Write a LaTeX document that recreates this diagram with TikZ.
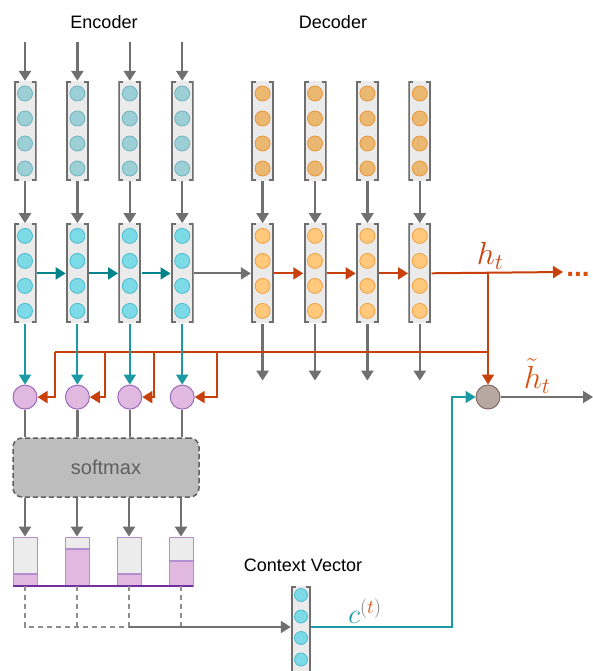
\RequirePackage{fix-cm}
\documentclass[tikz,border=0pt]{standalone}
\usepackage{fontspec}
\setmainfont{Liberation Sans}
\usetikzlibrary{arrows.meta,positioning}

\definecolor{boxgrey}{HTML}{EBEBEB}
\definecolor{bracketgrey}{HTML}{6E6E6E}
\definecolor{linegrey}{HTML}{707070}
\definecolor{encfill}{HTML}{9CCFD6}
\definecolor{encdraw}{HTML}{6FB4BE}
\definecolor{enhfill}{HTML}{7DDBE8}
\definecolor{enhdraw}{HTML}{4BBCCC}
\definecolor{decfill}{HTML}{EBB872}
\definecolor{decdraw}{HTML}{E8953A}
\definecolor{dehfill}{HTML}{FFC87A}
\definecolor{dehdraw}{HTML}{F0A040}
\definecolor{tealdown}{HTML}{1B9AA5}
\definecolor{tealdark}{HTML}{00838A}
\definecolor{attnred}{HTML}{C8400C}
\definecolor{htorange}{HTML}{D8500F}
\definecolor{scorefill}{HTML}{E0B8E0}
\definecolor{scoredraw}{HTML}{9A6AB8}
\definecolor{mixfill}{HTML}{B8A8A2}
\definecolor{mixdraw}{HTML}{806A66}
\definecolor{smfill}{HTML}{BDBDBD}
\definecolor{smdraw}{HTML}{606060}
\definecolor{bargrey}{HTML}{ECECEC}
\definecolor{barpurple}{HTML}{E0B8E0}
\definecolor{baredge}{HTML}{B38FD0}
\definecolor{barline}{HTML}{7030A0}

% dots inside a vector: fill, draw, radius, first offset, spacing
\newcommand{\vecdots}[5]{%
  \filldraw[fill=#1,draw=#2,line width=0.8pt] ([yshift=-#4]path picture bounding box.north) circle (#3);
  \filldraw[fill=#1,draw=#2,line width=0.8pt] ([yshift={-(#4+#5)}]path picture bounding box.north) circle (#3);
  \filldraw[fill=#1,draw=#2,line width=0.8pt] ([yshift={-(#4+2*#5)}]path picture bounding box.north) circle (#3);
  \filldraw[fill=#1,draw=#2,line width=0.8pt] ([yshift={-(#4+3*#5)}]path picture bounding box.north) circle (#3);
}
\newcommand{\vecbracket}{%
  \draw[bracketgrey,line width=2pt] ([xshift=5pt,yshift=-1pt]path picture bounding box.north west) -- ([xshift=1pt,yshift=-1pt]path picture bounding box.north west) -- ([xshift=1pt,yshift=1pt]path picture bounding box.south west) -- ([xshift=5pt,yshift=1pt]path picture bounding box.south west);
  \draw[bracketgrey,line width=2pt] ([xshift=-5pt,yshift=-1pt]path picture bounding box.north east) -- ([xshift=-1pt,yshift=-1pt]path picture bounding box.north east) -- ([xshift=-1pt,yshift=1pt]path picture bounding box.south east) -- ([xshift=-5pt,yshift=1pt]path picture bounding box.south east);
}

\tikzstyle{arrow} = [->, >={Triangle[length=10pt,width=12pt]}, line width=2.5pt, draw=linegrey]
\tikzstyle{tealarrow} = [arrow, line width=2pt, draw=tealdown]
\tikzstyle{darkarrow} = [arrow, line width=2pt, draw=tealdark]
\tikzstyle{redarrow} = [arrow, line width=2pt, draw=attnred]
\tikzstyle{redline} = [line width=2pt, draw=attnred]
\tikzstyle{greyline} = [line width=2.5pt, draw=linegrey]
\tikzstyle{dashline} = [line width=1.5pt, draw=linegrey!80, dash pattern=on 5pt off 4pt]
\tikzstyle{vecbox} = [rectangle, minimum width=23pt, minimum height=100pt, inner sep=0pt, fill=boxgrey]
\tikzstyle{xvec} = [vecbox, path picture={\vecdots{encfill}{encdraw}{7.5pt}{12.5pt}{25pt}\vecbracket}]
\tikzstyle{evec} = [vecbox, path picture={\vecdots{enhfill}{enhdraw}{7.5pt}{12.5pt}{25pt}\vecbracket}]
\tikzstyle{yvec} = [vecbox, path picture={\vecdots{decfill}{decdraw}{7.5pt}{12.5pt}{25pt}\vecbracket}]
\tikzstyle{dvec} = [vecbox, path picture={\vecdots{dehfill}{dehdraw}{7.5pt}{12.5pt}{25pt}\vecbracket}]
\tikzstyle{cvec} = [vecbox, minimum width=20pt, minimum height=96pt, path picture={\vecdots{enhfill}{enhdraw}{6.5pt}{9.5pt}{21.5pt}\vecbracket}]
\tikzstyle{score} = [circle, minimum size=24pt, inner sep=0pt, fill=scorefill, draw=scoredraw, line width=1pt]
\tikzstyle{mix} = [circle, minimum size=24pt, inner sep=0pt, fill=mixfill, draw=mixdraw, line width=1pt]
\tikzstyle{smbox} = [rectangle, rounded corners=9pt, minimum width=186pt, minimum height=59pt, fill=smfill, draw=smdraw, line width=1.5pt, dash pattern=on 5pt off 3pt, text=smdraw, font=\fontsize{20}{22}\selectfont]
\tikzstyle{title} = [font=\fontsize{18}{20}\selectfont]
\tikzstyle{mathlabel} = [font=\fontsize{32}{34}\selectfont, inner sep=0pt]
\tikzset{bar/.style={rectangle, minimum width=24pt, minimum height=49pt, inner sep=0pt, fill=bargrey, draw=baredge, line width=0.8pt,
  path picture={\fill[barpurple] (path picture bounding box.south west) rectangle ([yshift=#1]path picture bounding box.south east);
    \draw[baredge, line width=1.2pt] ([yshift=#1]path picture bounding box.south west) -- ([yshift=#1]path picture bounding box.south east);}}}

\begin{document}
\begin{tikzpicture}[x=1pt, y=-1pt]
\useasboundingbox (0,0) rectangle (593,671);

% Nodes
\node (xin1) [xvec] at (25,131) {};
\node (xin2) [xvec, right=29pt of xin1] {};
\node (xin3) [xvec, right=29pt of xin2] {};
\node (xin4) [xvec, right=29pt of xin3] {};
\node (din1) [yvec, right=57pt of xin4] {};
\node (din2) [yvec, right=29pt of din1] {};
\node (din3) [yvec, right=29pt of din2] {};
\node (din4) [yvec, right=29pt of din3] {};

\node (enc1) [evec, below=42pt of xin1] {};
\node (enc2) [evec, below=42pt of xin2] {};
\node (enc3) [evec, below=42pt of xin3] {};
\node (enc4) [evec, below=42pt of xin4] {};
\node (dec1) [dvec, below=42pt of din1] {};
\node (dec2) [dvec, below=42pt of din2] {};
\node (dec3) [dvec, below=42pt of din3] {};
\node (dec4) [dvec, below=42pt of din4] {};

\node (score1) [score, below=61pt of enc1] {};
\node (score2) [score, below=61pt of enc2] {};
\node (score3) [score, below=61pt of enc3] {};
\node (score4) [score, below=61pt of enc4] {};

\node (softmax) [smbox] at (106,467.5) {softmax};

\node (alpha1) [bar=12pt] at (25,561.5) {};
\node (alpha2) [bar=37pt] at (77,561.5) {};
\node (alpha3) [bar=12pt] at (129,561.5) {};
\node (alpha4) [bar=25pt] at (181,561.5) {};

\node (context) [cvec] at (301,633.5) {};
\node (combine) [mix] at (488,397) {};

\node (enclabel) [title] at (104,22) {Encoder};
\node (declabel) [title] at (333,22) {Decoder};
\node (ctxlabel) [title] at (303,565) {Context Vector};
\node (htlabel) [mathlabel, text=attnred] at (490,256) {$h_t$};
\node (hbarlabel) [mathlabel, text=htorange] at (537,376) {$\tilde{h}_t$};
\node (ctlabel) [mathlabel, font=\fontsize{28}{30}\selectfont] at (365,611) {$\textcolor{tealdown}{c}^{\textcolor{linegrey}{(}\textcolor{htorange}{t}\textcolor{linegrey}{)}}$};
\node (dots) [text=htorange, font=\fontsize{28}{30}\selectfont\bfseries, inner sep=0pt, anchor=base] at (578,276) {...};

\node (in1) [coordinate, above=39pt of xin1] {};
\node (in2) [coordinate, above=39pt of xin2] {};
\node (in3) [coordinate, above=39pt of xin3] {};
\node (in4) [coordinate, above=39pt of xin4] {};
\node (dout1) [coordinate, below=57pt of dec1] {};
\node (dout2) [coordinate, below=57pt of dec2] {};
\node (dout3) [coordinate, below=57pt of dec3] {};
\node (dout4) [coordinate, below=57pt of dec4] {};
\coordinate (next) at (563,272);
\coordinate (hsplit) at (488,272);
\coordinate (hbus) at (488,352);
\coordinate (k1) at (55,352);
\coordinate (k2) at (105,352);
\coordinate (k3) at (154,352);
\coordinate (k4) at (217,352);
\coordinate (tout) at (593,397);
\coordinate (q1) at (25,627);
\coordinate (q2) at (77,627);
\coordinate (q3) at (129,627);
\coordinate (q4) at (181,627);
\coordinate (cbend) at (452,397);

% Arrows
\draw [arrow] (in1) -- (xin1);
\draw [arrow] (in2) -- (xin2);
\draw [arrow] (in3) -- (xin3);
\draw [arrow] (in4) -- (xin4);
\draw [arrow] (xin1) -- (enc1);
\draw [arrow] (xin2) -- (enc2);
\draw [arrow] (xin3) -- (enc3);
\draw [arrow] (xin4) -- (enc4);
\draw [arrow] (din1) -- (dec1);
\draw [arrow] (din2) -- (dec2);
\draw [arrow] (din3) -- (dec3);
\draw [arrow] (din4) -- (dec4);

\draw [darkarrow] (enc1) -- (enc2);
\draw [darkarrow] (enc2) -- (enc3);
\draw [darkarrow] (enc3) -- (enc4);
\draw [arrow, line width=2pt] (enc4) -- (dec1);
\draw [redarrow] (dec1) -- (dec2);
\draw [redarrow] (dec2) -- (dec3);
\draw [redarrow] (dec3) -- (dec4);
\draw [redarrow] (dec4) -- (next);

\draw [arrow] (dec1) -- (dout1);
\draw [arrow] (dec2) -- (dout2);
\draw [arrow] (dec3) -- (dout3);
\draw [arrow] (dec4) -- (dout4);

\draw [redline] (hbus) -- (k1);
\draw [redarrow] (hsplit) -- (combine);
\draw [redarrow] (k1) |- (score1);
\draw [redarrow] (k2) |- (score2);
\draw [redarrow] (k3) |- (score3);
\draw [redarrow] (k4) |- (score4);

\draw [tealarrow] (enc1) -- (score1);
\draw [tealarrow] (enc2) -- (score2);
\draw [tealarrow] (enc3) -- (score3);
\draw [tealarrow] (enc4) -- (score4);

\draw [greyline] (score1) -- (score1 |- softmax.north);
\draw [greyline] (score2) -- (score2 |- softmax.north);
\draw [greyline] (score3) -- (score3 |- softmax.north);
\draw [greyline] (score4) -- (score4 |- softmax.north);
\draw [arrow] (softmax.south -| alpha1) -- (alpha1);
\draw [arrow] (softmax.south -| alpha2) -- (alpha2);
\draw [arrow] (softmax.south -| alpha3) -- (alpha3);
\draw [arrow] (softmax.south -| alpha4) -- (alpha4);
\draw [barline, line width=2pt] (alpha1.south west) -- (alpha4.south east);

\draw [dashline] (alpha1.south) -- (q1) -- (q3);
\draw [dashline] (alpha2.south) -- (q2);
\draw [dashline] (alpha3.south) -- (q3);
\draw [dashline] (alpha4.south) -- (q4);
\draw [arrow, line width=2pt] (q3) -- (q3 -| context.west);
\draw [tealarrow] (context.east |- q3) -| (cbend) -- (combine);
\draw [arrow, line width=2pt] (combine) -- (tout);

\end{tikzpicture}
\end{document}
